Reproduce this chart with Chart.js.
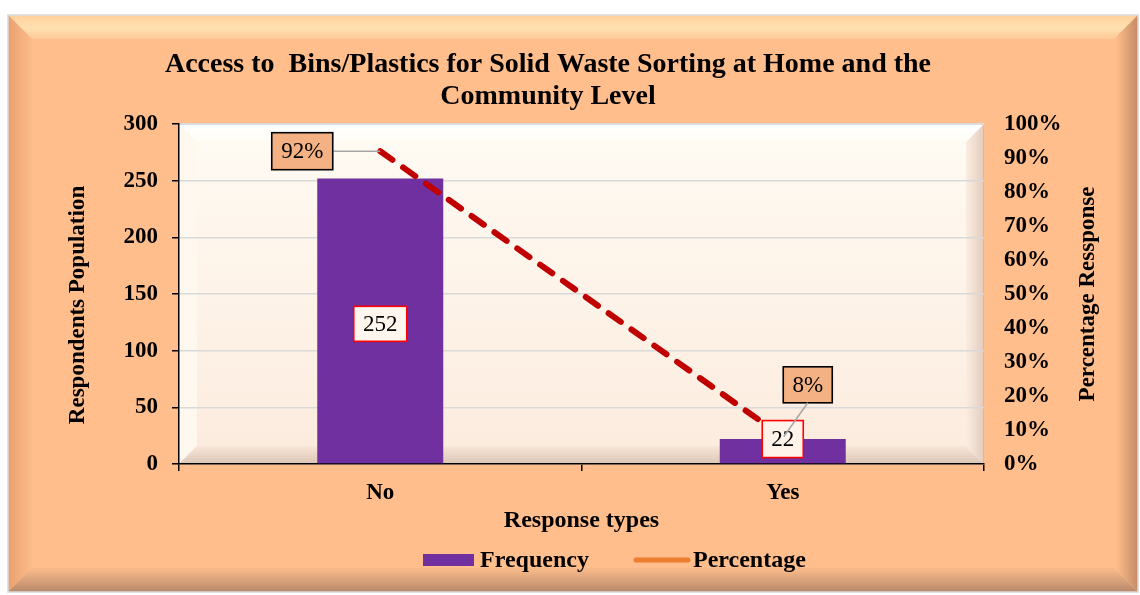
<!DOCTYPE html>
<html>
<head>
<meta charset="utf-8">
<script src="https://cdn.jsdelivr.net/npm/chart.js@4.4.1/dist/chart.umd.min.js"></script>
<style>
  body { margin: 0; background: #fff; }
  #wrap { width: 1140px; height: 595px; }
</style>
</head>
<body>
<div id="wrap"><canvas id="myChart" width="1140" height="595"></canvas></div>
<script>
const categories = ['No', 'Yes'];
const frequency = [252, 22];
const percentage = [92, 8];
const titleLines = ['Access to  Bins/Plastics for Solid Waste Sorting at Home and the', 'Community Level'];
const leftTitle = 'Respondents Population';
const rightTitle = 'Percentage Ressponse';

const serif = "'Liberation Serif', 'Times New Roman', serif";

function bevelRect(ctx, x0, y0, x1, y1, b, cols) {
    // top, left, bottom, right trapezoids
    const parts = [
        [[x0, y0], [x1, y0], [x1 - b, y0 + b], [x0 + b, y0 + b]],
        [[x0, y0], [x0 + b, y0 + b], [x0 + b, y1 - b], [x0, y1]],
        [[x0, y1], [x0 + b, y1 - b], [x1 - b, y1 - b], [x1, y1]],
        [[x1, y0], [x1, y1], [x1 - b, y1 - b], [x1 - b, y0 + b]]
    ];
    parts.forEach(function (p, i) {
        ctx.beginPath();
        ctx.moveTo(p[0][0], p[0][1]);
        for (let k = 1; k < p.length; k++) ctx.lineTo(p[k][0], p[k][1]);
        ctx.closePath();
        ctx.fillStyle = cols[i];
        ctx.fill();
    });
}

function box(ctx, text, cx, cy, w, h, fill, stroke) {
    ctx.fillStyle = fill;
    ctx.fillRect(cx - w / 2, cy - h / 2, w, h);
    ctx.strokeStyle = stroke;
    ctx.lineWidth = 1.6;
    ctx.strokeRect(cx - w / 2, cy - h / 2, w, h);
    ctx.fillStyle = '#000';
    ctx.font = "23px " + serif;
    ctx.textAlign = 'center';
    ctx.textBaseline = 'middle';
    ctx.fillText(text, cx, cy + 1);
}

const decor = {
    id: 'decor',
    beforeDraw: function (chart) {
        const ctx = chart.ctx;
        const a = chart.chartArea;
        ctx.save();
        // outer frame
        const fx0 = 8, fy0 = 15, fx1 = 1138, fy1 = 592;
        ctx.fillStyle = '#FFBE8C';
        ctx.fillRect(fx0, fy0, fx1 - fx0, fy1 - fy0);
        let g = ctx.createLinearGradient(0, fy0, 0, fy0 + 26);
        g.addColorStop(0, '#FFD09C');
        g.addColorStop(0.5, '#FFE0B0');
        g.addColorStop(1, '#FFC592');
        const gl = ctx.createLinearGradient(fx0, 0, fx0 + 26, 0);
        gl.addColorStop(0, '#E8A070');
        gl.addColorStop(1, '#FFBE8C');
        const gbo = ctx.createLinearGradient(0, fy1 - 22, 0, fy1);
        gbo.addColorStop(0, '#F5B888');
        gbo.addColorStop(1, '#B8886A');
        const gr = ctx.createLinearGradient(fx1 - 22, 0, fx1, 0);
        gr.addColorStop(0, '#FFBE8C');
        gr.addColorStop(1, '#C48B66');
        bevelRect(ctx, fx0, fy0, fx1, fy1, 24, [g, gl, gbo, gr]);
        ctx.strokeStyle = '#D9D9D9';
        ctx.lineWidth = 1.5;
        ctx.strokeRect(fx0, fy0, fx1 - fx0, fy1 - fy0);

        // plot area
        g = ctx.createLinearGradient(a.left, a.top, a.left, a.bottom);
        g.addColorStop(0, '#FFFBF4');
        g.addColorStop(1, '#FCEBDD');
        ctx.fillStyle = g;
        ctx.fillRect(a.left, a.top, a.right - a.left, a.bottom - a.top);
        const gt = ctx.createLinearGradient(0, a.top, 0, a.top + 18);
        gt.addColorStop(0, '#FFFFFF');
        gt.addColorStop(1, '#FFFCF6');
        const gb = ctx.createLinearGradient(0, a.bottom - 18, 0, a.bottom);
        gb.addColorStop(0, '#F8E6D8');
        gb.addColorStop(1, '#DCC6B6');
        const gpr = ctx.createLinearGradient(a.right - 18, 0, a.right, 0);
        gpr.addColorStop(0, '#FCEDE1');
        gpr.addColorStop(1, '#E2CCBE');
        bevelRect(ctx, a.left, a.top, a.right, a.bottom, 18, [gt, '#FFF8EE', gb, gpr]);
        ctx.strokeStyle = '#BFBFBF';
        ctx.lineWidth = 1;
        ctx.beginPath(); ctx.moveTo(a.right - 0.5, a.top); ctx.lineTo(a.right - 0.5, a.bottom); ctx.stroke();
        ctx.strokeStyle = '#E0E0E0';
        ctx.beginPath(); ctx.moveTo(a.left, a.top + 0.5); ctx.lineTo(a.right, a.top + 0.5); ctx.stroke();
        ctx.restore();
    },
    afterDatasetsDraw: function (chart) {
        const ctx = chart.ctx;
        const bars = chart.getDatasetMeta(0).data;
        const pts = chart.getDatasetMeta(1).data;
        ctx.save();
        // 92% label with leader
        let p = pts[0];
        ctx.strokeStyle = '#A6A6A6';
        ctx.lineWidth = 1.5;
        ctx.beginPath(); ctx.moveTo(p.x, p.y); ctx.lineTo(p.x - 47, p.y); ctx.stroke();
        box(ctx, percentage[0] + '%', p.x - 78, p.y, 61, 37, '#F4B183', '#000');
        // bar value labels
        box(ctx, String(frequency[0]), bars[0].x, (bars[0].y + bars[0].base) / 2 + 3, 53, 35, '#FFF6EE', '#FF0000');
        box(ctx, String(frequency[1]), bars[1].x, bars[1].y, 41, 37, '#FFF3EA', '#FF0000');
        // 8% label with leader
        p = pts[1];
        box(ctx, percentage[1] + '%', p.x + 25, p.y - 52, 49, 36, '#F4B183', '#000');
        ctx.strokeStyle = '#A6A6A6';
        ctx.lineWidth = 1.5;
        ctx.beginPath(); ctx.moveTo(p.x + 25, p.y - 34); ctx.lineTo(p.x + 1, p.y); ctx.stroke();
        ctx.restore();
    },
    afterDraw: function (chart) {
        const ctx = chart.ctx;
        ctx.save();
        ctx.fillStyle = '#000';
        ctx.textAlign = 'center';
        ctx.textBaseline = 'middle';
        ctx.font = "bold 28px " + serif;
        ctx.fillText(titleLines[0], 548, 65);
        ctx.fillText(titleLines[1], 548, 97);

        // y axis titles
        ctx.font = "bold 23px " + serif;
        ctx.save();
        ctx.translate(78, 305);
        ctx.rotate(-Math.PI / 2);
        ctx.fillText(leftTitle, 0, 0);
        ctx.restore();
        ctx.save();
        ctx.translate(1088, 294);
        ctx.rotate(-Math.PI / 2);
        ctx.fillText(rightTitle, 0, 0);
        ctx.restore();

        // legend
        ctx.fillStyle = '#7030A0';
        ctx.fillRect(423, 554, 51, 12);
        ctx.strokeStyle = '#ED7D31';
        ctx.lineWidth = 5;
        ctx.lineCap = 'round';
        ctx.beginPath(); ctx.moveTo(636, 560); ctx.lineTo(688, 560); ctx.stroke();
        ctx.fillStyle = '#000';
        ctx.font = "bold 24px " + serif;
        ctx.textAlign = 'left';
        ctx.fillText('Frequency', 480, 561);
        ctx.fillText('Percentage', 693, 561);
        ctx.restore();
    }
};

const tickFont = { family: serif, size: 23, weight: 'bold' };
const axisTitleFont = { family: serif, size: 24, weight: 'bold' };

var area = document.getElementById('myChart').getContext('2d');
var urChart = new Chart(area, {
    type: 'bar',
    data: {
        labels: categories,
        datasets: [{
            label: 'Frequency',
            type: 'bar',
            data: frequency,
            backgroundColor: '#7030A0',
            borderWidth: 0,
            barPercentage: 0.313,
            categoryPercentage: 1,
            yAxisID: 'y',
            order: 1
        }, {
            label: 'Percentage',
            type: 'line',
            data: percentage,
            borderColor: '#C00000',
            borderWidth: 6,
            borderDash: [15, 13],
            borderCapStyle: 'round',
            pointRadius: 0,
            fill: false,
            yAxisID: 'y1',
            order: 0
        }]
    },
    options: {
        responsive: false,
        animation: false,
        devicePixelRatio: 1,
        layout: { padding: { top: 124, left: 0, right: 0, bottom: 0 } },
        scales: {
            x: {
                offset: true,
                grid: {
                    display: true,
                    drawOnChartArea: false,
                    offset: true,
                    tickLength: 7,
                    tickColor: '#000',
                    lineWidth: 1.5
                },
                border: { color: '#000', width: 1.5 },
                ticks: { font: tickFont, color: '#000', padding: 8 },
                title: {
                    display: true,
                    text: 'Response types',
                    font: axisTitleFont,
                    color: '#000',
                    padding: { top: 0, bottom: 60 }
                },
                afterFit: function (s) { s.height = 131; }
            },
            y: {
                position: 'left',
                min: 0,
                max: 300,
                ticks: { stepSize: 50, font: tickFont, color: '#000', padding: 14 },
                grid: { color: '#D9D9D9', tickColor: '#000', tickLength: 7, lineWidth: 1.5 },
                border: { color: '#000', width: 1.5 },
                title: { display: false },
                afterFit: function (s) { s.width = 179; }
            },
            y1: {
                position: 'right',
                min: 0,
                max: 100,
                ticks: {
                    stepSize: 10,
                    font: tickFont,
                    color: '#000',
                    padding: 20,
                    callback: function (v) { return v + '%'; }
                },
                grid: { display: false, drawTicks: false },
                border: { display: false },
                title: { display: false },
                afterFit: function (s) { s.width = 156; }
            }
        },
        plugins: {
            legend: { display: false },
            title: { display: false },
            tooltip: { enabled: false }
        }
    },
    plugins: [decor]
});
</script>
</body>
</html>
